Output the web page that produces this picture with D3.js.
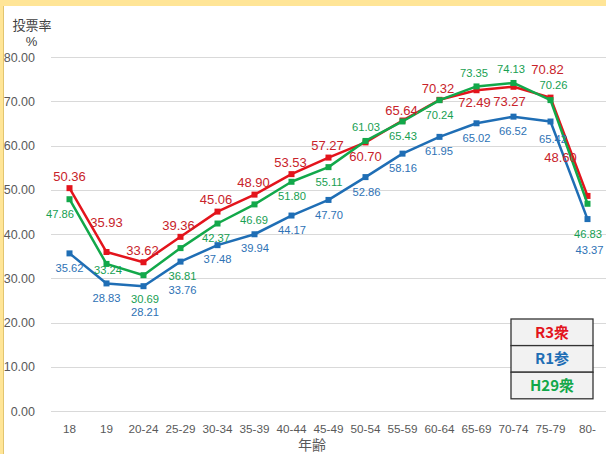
<!DOCTYPE html>
<html><head><meta charset="utf-8">
<script src="https://cdn.jsdelivr.net/npm/d3@7"></script>
<style>
html,body{margin:0;padding:0;background:#FFE597;}
svg{display:block;}
</style></head>
<body>
<svg id="c" width="606" height="454"></svg>
<script>
const categories = ["18","19","20-24","25-29","30-34","35-39","40-44","45-49","50-54","55-59","60-64","65-69","70-74","75-79","80-"];
const seriesNames = ["R3衆","R1参","H29衆"];
const r3 = [50.36,35.93,33.62,39.36,45.06,48.90,53.53,57.27,60.70,65.64,70.32,72.49,73.27,70.82,48.60];
const r1 = [35.62,28.83,28.21,33.76,37.48,39.94,44.17,47.70,52.86,58.16,61.95,65.02,66.52,65.42,43.37];
const h29 = [47.86,33.24,30.69,36.81,42.37,46.69,51.80,55.11,61.03,65.43,70.24,73.35,74.13,70.26,46.83];
const yTicks = [0,10,20,30,40,50,60,70,80];

// label placement (layout only): [dx, dy] offsets in px from the marker
const r3Lbl = [[0,-12],[0,-30],[-1,-12],[-2,-12],[-1.5,-12.5],[-1,-12.5],[-1,-12],[-1,-12],[0,14],[-1,-10.5],[-1.5,-12],[-2,12],[-4,15],[-3,-28.5],[-27,-39]];
const r1Lbl = [[0,15],[0,15],[1.5,26],[2,28.5],[0,14],[0.5,14],[0.5,14],[0.5,15],[1,14.5],[0.5,14.5],[-0.5,14],[0,15],[-0.5,14.5],[2.5,17],[2,31]];
const h29Lbl = [[-9.5,15],[1.5,6],[1.5,24],[2,28],[-1.5,14.5],[-0.5,15.5],[0.5,14],[0.5,15],[0.5,-14],[0.5,14.5],[0,15],[-2.5,-13],[-2.5,-14],[3,-15],[0.5,30]];

const svg = d3.select("#c");
// white panel
svg.append("rect").attr("x",4).attr("y",6).attr("width",602).attr("height",448).attr("fill","#fff");
svg.append("line").attr("x1",3.5).attr("x2",3.5).attr("y1",6).attr("y2",454).attr("stroke","#E2C56F").attr("stroke-width",1);

const x = d3.scaleBand().domain(categories).range([51,606]);
const y = d3.scaleLinear().domain([0,80]).range([411,57]);
const cx = c => x(c) + x.bandwidth()/2;

// gridlines
svg.append("g").selectAll("line").data(yTicks).join("line")
  .attr("x1",51).attr("x2",606)
  .attr("y1",d=>Math.round(y(d))+0.5).attr("y2",d=>Math.round(y(d))+0.5)
  .attr("stroke","#D9D9D9").attr("stroke-width",1);

// y axis labels
const yAxis = d3.axisLeft(y).tickValues(yTicks).tickFormat(d3.format(".2f")).tickSize(0).tickPadding(0);
const gy = svg.append("g").attr("transform","translate(35,0)").call(yAxis);
gy.select(".domain").remove();
gy.selectAll("text").attr("font-family","Liberation Sans, Arial, sans-serif").attr("font-size","12.5px").attr("fill","#595959");

// x axis labels
const xAxis = d3.axisBottom(x).tickSize(0).tickPadding(0);
const gx = svg.append("g").attr("transform","translate(0,425)").call(xAxis);
gx.select(".domain").remove();
gx.selectAll("text").attr("font-family","Liberation Sans, Arial, sans-serif").attr("font-size","11.7px").attr("fill","#595959").attr("dy","0.71em");

// axis titles
svg.append("text").attr("x",32).attr("y",30).attr("text-anchor","middle")
  .attr("font-family","Noto Sans CJK JP, sans-serif").attr("font-size","13px").attr("fill","#404040").text("投票率");
svg.append("text").attr("x",31.5).attr("y",46).attr("text-anchor","middle")
  .attr("font-family","Liberation Sans, Arial, sans-serif").attr("font-size","13px").attr("fill","#404040").text("%");
svg.append("text").attr("x",312).attr("y",450).attr("text-anchor","middle")
  .attr("font-family","Noto Sans CJK JP, sans-serif").attr("font-size","14px").attr("fill","#595959").text("年齢");

const series = [
  {name:seriesNames[1], vals:r1, lbl:r1Lbl, line:"#1F6EB5", text:"#2E72B5", fs:11.2},
  {name:seriesNames[0], vals:r3, lbl:r3Lbl, line:"#E3141C", text:"#C8232A", fs:13},
  {name:seriesNames[2], vals:h29, lbl:h29Lbl, line:"#12A84A", text:"#17A052", fs:11.2}
];
const lineGen = d3.line().x((d,i)=>cx(categories[i])).y(d=>y(d));
series.forEach(s=>{
  const g = svg.append("g");
  g.append("path").attr("d",lineGen(s.vals)).attr("fill","none").attr("stroke",s.line).attr("stroke-width",2.5).attr("stroke-linejoin","round");
  g.selectAll("rect").data(s.vals).join("rect")
    .attr("x",(d,i)=>cx(categories[i])-3).attr("y",d=>y(d)-3).attr("width",6).attr("height",6).attr("fill",s.line);
});
series.forEach(s=>{
  svg.append("g").selectAll("text").data(s.vals).join("text")
    .attr("x",(d,i)=>cx(categories[i])+s.lbl[i][0])
    .attr("y",(d,i)=>y(d)+s.lbl[i][1])
    .attr("dy","0.36em").attr("text-anchor","middle")
    .attr("font-family","Liberation Sans, Arial, sans-serif").attr("font-size",s.fs+"px")
    .attr("fill",s.text).text(d=>d3.format(".2f")(d));
});

// legend box
const legend = [
  {name:seriesNames[0], color:"#E3141C"},
  {name:seriesNames[1], color:"#1F6EB5"},
  {name:seriesNames[2], color:"#12A84A"}
];
const lx=511, ly=319, lw=82, lh=26.6;
const lg = svg.append("g");
legend.forEach((d,i)=>{
  lg.append("rect").attr("x",lx).attr("y",ly+i*lh).attr("width",lw).attr("height",lh)
    .attr("fill","#F2F2F2").attr("stroke","#333").attr("stroke-width",1.3);
  lg.append("text").attr("x",lx+lw/2).attr("y",ly+i*lh+lh/2).attr("dy","0.36em").attr("text-anchor","middle")
    .attr("font-family","Noto Sans CJK JP, sans-serif").attr("font-weight","bold").attr("font-size","15px")
    .attr("fill",d.color).text(d.name);
});
</script>
</body></html>
